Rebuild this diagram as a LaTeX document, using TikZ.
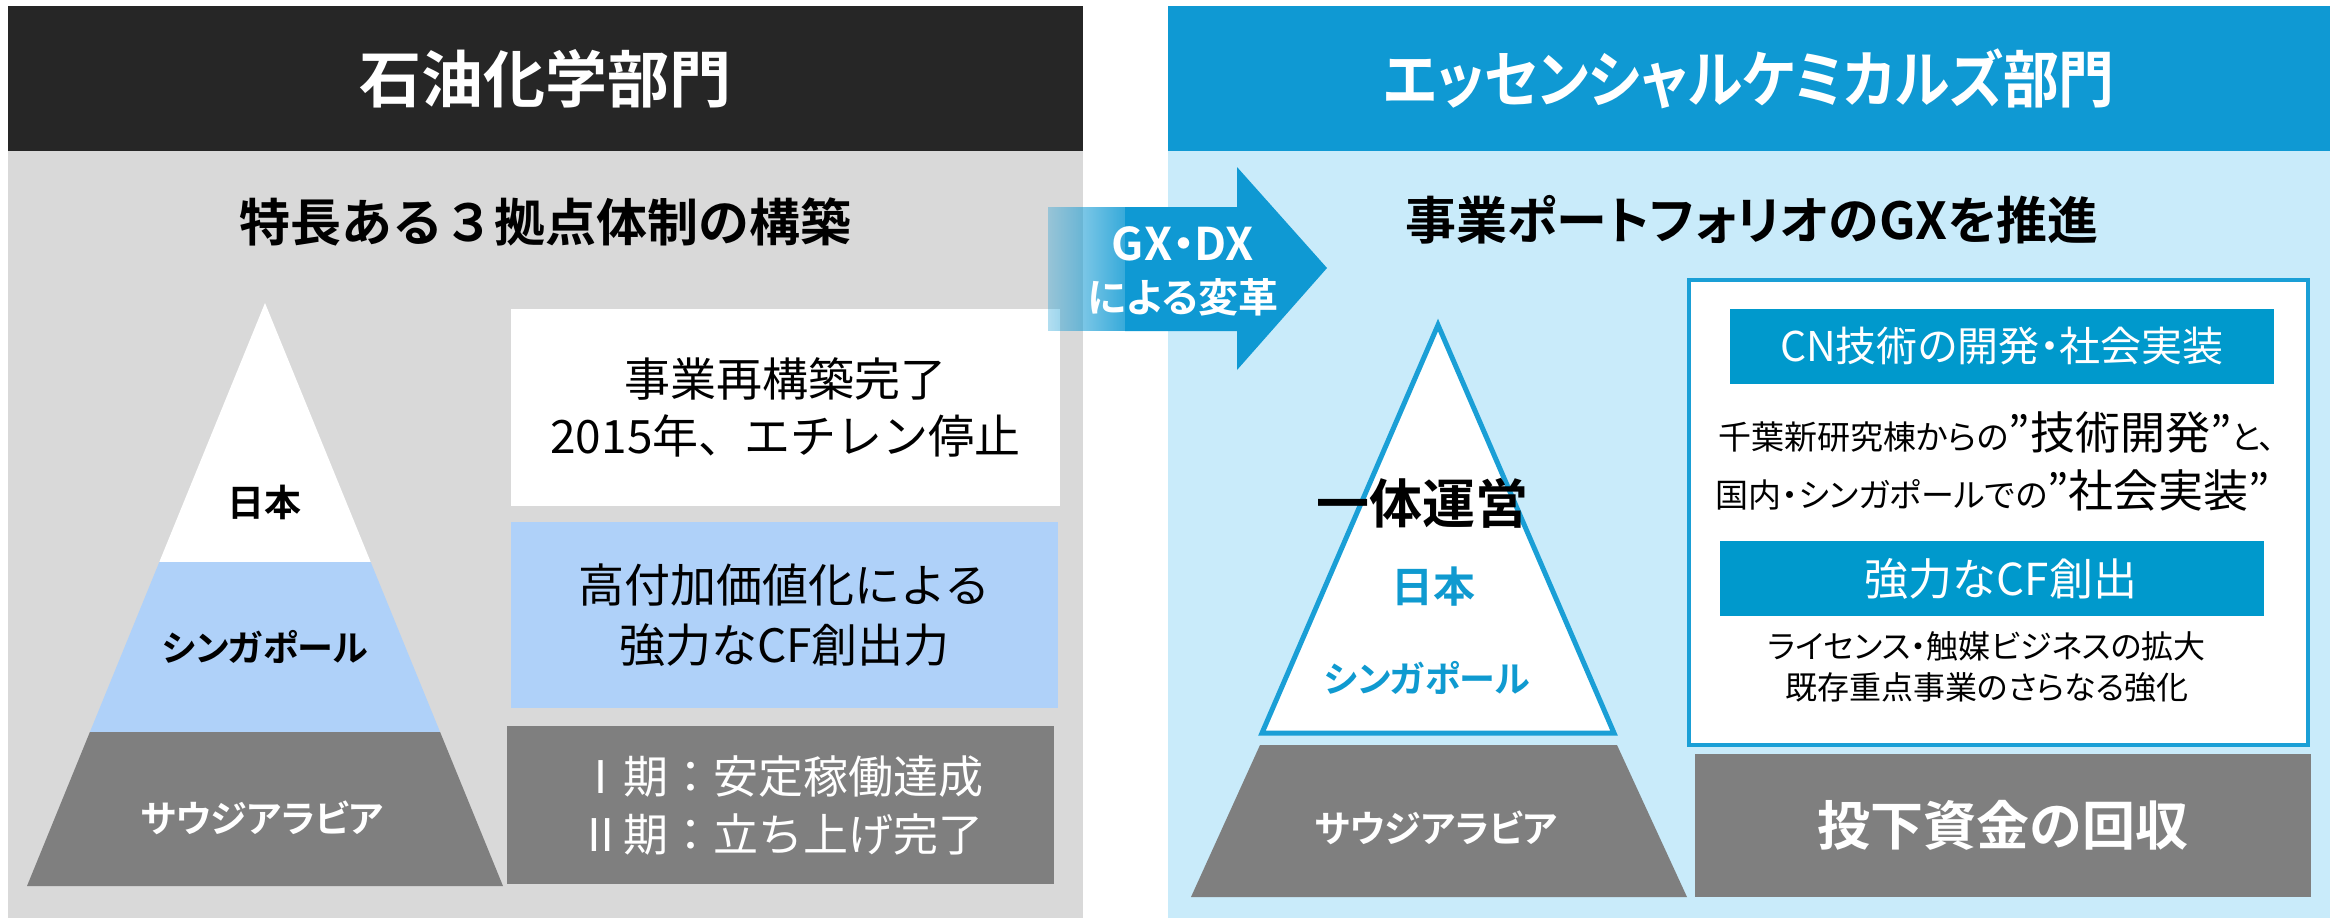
\documentclass[tikz,border=0pt]{standalone}
\usepackage{fontspec}
\setmainfont{Noto Sans CJK JP}[BoldFont={Noto Sans CJK JP Bold}]
\newfontfamily\jpp{Noto Sans CJK JP}[BoldFont={Noto Sans CJK JP Bold},RawFeature=+palt]
\usetikzlibrary{fadings}
\definecolor{hdrdark}{HTML}{262626}
\definecolor{panelgray}{HTML}{D9D9D9}
\definecolor{hdrblue}{HTML}{0F99D3}
\definecolor{panelblue}{HTML}{C9EBFA}
\definecolor{boxblue}{HTML}{AFD1F9}
\definecolor{midgray}{HTML}{7F7F7F}
\definecolor{cnblue}{HTML}{0099CC}
\definecolor{lineblue}{HTML}{1A9FD6}
\definecolor{txtblue}{HTML}{0F9AD0}
\tikzfading[name=arrowfade, left color=transparent!100, right color=transparent!0]
\newcommand\fsz[2]{\fontsize{#1}{#2}\selectfont}
\begin{document}
\begin{tikzpicture}[x=1pt,y=-1pt,
  panel/.style={inner sep=0pt, outer sep=0pt, anchor=north west},
  box/.style={inner sep=0pt, outer sep=0pt, align=center},
  lbl/.style={inner sep=0pt, outer sep=0pt, align=center}]
\useasboundingbox (0,0) rectangle (2338,918);
\fill[white] (0,0) rectangle (2338,918);

% ---------------- left panel
\node[panel, fill=panelgray, minimum width=1075pt, minimum height=767pt] (bodyL) at (8,151) {};
\node[panel, fill=hdrdark, minimum width=1075pt, minimum height=145pt, text=white, font=\bfseries\fsz{62}{62}] (hdrL) at (8,6) {石油化学部門};
\node[lbl, font=\bfseries\fsz{51}{51}] (subL) at (545,222) {特長ある３拠点体制の構築};

% left pyramid
\fill[white] (265,303) -- (370.7,562) -- (159.3,562) -- cycle;
\fill[boxblue] (159.3,562) -- (370.7,562) -- (440.1,732) -- (89.9,732) -- cycle;
\fill[midgray] (89.9,732) -- (440.1,732) -- (503,886) -- (27,886) -- cycle;
\node[lbl, font=\bfseries\fsz{37}{37}] (jpL) at (264,502) {日本};
\node[lbl, font=\jpp\bfseries\fsz{36}{36}] (sgL) at (265,647) {シンガポール};
\node[lbl, text=white, font=\jpp\bfseries\fsz{37}{37}] (saL) at (262,818) {サウジアラビア};

% left boxes
\node[box, fill=white, minimum width=549pt, minimum height=197pt, font=\fsz{46}{57}] (whiteBox) at (785.5,407.5) {事業再構築完了\\2015年、エチレン停止};
\node[box, fill=boxblue, minimum width=547pt, minimum height=186pt, font=\fsz{46}{60}] (blueBox) at (784.5,615) {高付加価値化による\\強力なCF創出力};
\node[box, fill=midgray, minimum width=547pt, minimum height=158pt, text=white, font=\fsz{45}{58}] (grayBox) at (780.5,805) {Ⅰ期：安定稼働達成\\Ⅱ期：立ち上げ完了};

% ---------------- right panel
\node[panel, fill=panelblue, minimum width=1162pt, minimum height=767pt] (bodyR) at (1168,151) {};
\node[panel, fill=hdrblue, minimum width=1162pt, minimum height=145pt, text=white, font=\jpp\bfseries\fsz{62}{62}] (hdrR) at (1168,6) {\scalebox{0.9}[1]{エッセンシャルケミカルズ部門}};
\node[lbl, font=\jpp\bfseries\fsz{51}{51}] (subR) at (1752,220) {事業ポートフォリオのGXを推進};

% arrow
\begin{scope}
\clip (1048,150) rectangle (1160,400);
\fill[hdrblue, path fading=arrowfade] (1000,207) rectangle (1150,331);
\end{scope}
\fill[hdrblue] (1125,207) -- (1237,207) -- (1237,167) -- (1327,268) -- (1237,370) -- (1237,331) -- (1125,331) -- cycle;
\node[lbl, text=white, font=\jpp\bfseries\fsz{40}{52}] (arrowtxt) at (1183,271) {{\fsz{45}{45}GX・DX}\\による変革};

% right pyramid
\draw[lineblue, fill=white, line width=5pt] (1438,325) -- (1614,733) -- (1262,733) -- cycle;
\fill[midgray] (1260,745) -- (1617,745) -- (1687,897) -- (1191,897) -- cycle;
\node[lbl, font=\bfseries\fsz{53}{53}] (ittai) at (1422,503) {一体運営};
\node[lbl, text=txtblue, font=\bfseries\fsz{42}{42}] (jpR) at (1433,587) {日本};
\node[lbl, text=txtblue, font=\jpp\bfseries\fsz{36}{36}] (sgR) at (1427,678) {シンガポール};
\node[lbl, text=white, font=\jpp\bfseries\fsz{37}{37}] (saR) at (1436,828) {サウジアラビア};

% right frame and contents
\node[box, fill=white, draw=lineblue, line width=4pt, minimum width=619pt, minimum height=465pt] (frame) at (1998.5,512.5) {};
\node[box, fill=cnblue, minimum width=544pt, minimum height=75pt, text=white, font=\jpp\fsz{41}{41}] (cnBox) at (2002,346.5) {CN技術の開発・社会実装};
\node[lbl, font=\jpp\fsz{33}{33}] (line1) at (1997,433) {千葉新研究棟からの{\fsz{45}{45}”技術開発”}と、};
\node[lbl, font=\jpp\fsz{33}{33}] (line2) at (1993,490) {国内・シンガポールでの{\fsz{45}{45}”社会実装”}};
\node[box, fill=cnblue, minimum width=544pt, minimum height=75pt, text=white, font=\fsz{44}{44}] (cfBox) at (1992,578.5) {\hspace*{18pt}強力なCF創出};
\node[lbl, font=\jpp\fsz{32}{41}] (lic) at (1987,667) {ライセンス・触媒ビジネスの拡大\\既存重点事業のさらなる強化};
\node[box, fill=midgray, minimum width=616pt, minimum height=143pt, text=white, font=\bfseries\fsz{53}{53}] (capBox) at (2003,825.5) {投下資金の回収};
\end{tikzpicture}
\end{document}
